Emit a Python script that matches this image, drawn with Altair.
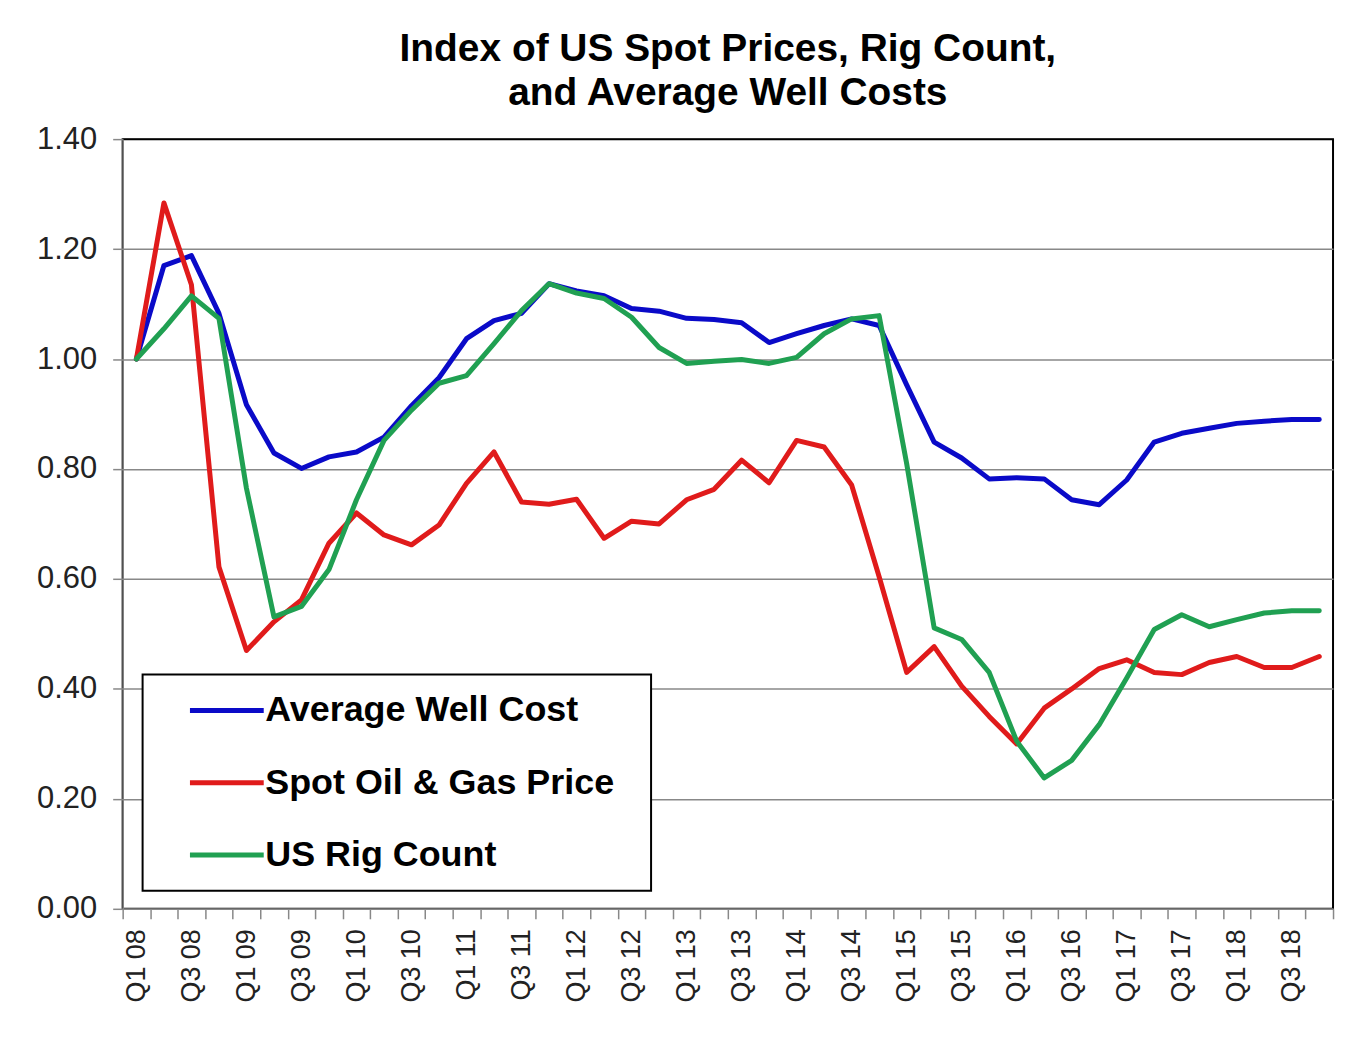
import altair as alt
import pandas as pd

quarters = [
    "Q1 08", "Q2 08", "Q3 08", "Q4 08", "Q1 09", "Q2 09", "Q3 09", "Q4 09",
    "Q1 10", "Q2 10", "Q3 10", "Q4 10", "Q1 11", "Q2 11", "Q3 11", "Q4 11",
    "Q1 12", "Q2 12", "Q3 12", "Q4 12", "Q1 13", "Q2 13", "Q3 13", "Q4 13",
    "Q1 14", "Q2 14", "Q3 14", "Q4 14", "Q1 15", "Q2 15", "Q3 15", "Q4 15",
    "Q1 16", "Q2 16", "Q3 16", "Q4 16", "Q1 17", "Q2 17", "Q3 17", "Q4 17",
    "Q1 18", "Q2 18", "Q3 18", "Q4 18",
]

series_names = ["Average Well Cost", "Spot Oil & Gas Price", "US Rig Count"]
series_colors = ["#0A0AC8", "#E01B1B", "#20A052"]

well_cost = [
    1.00, 1.17, 1.188, 1.083, 0.917, 0.829, 0.801, 0.822, 0.831, 0.858,
    0.915, 0.966, 1.037, 1.07, 1.083, 1.137, 1.124, 1.115, 1.092, 1.087,
    1.074, 1.072, 1.066, 1.03, 1.046, 1.061, 1.073, 1.061, 0.953, 0.849,
    0.82, 0.782, 0.784, 0.782, 0.744, 0.735, 0.78, 0.849, 0.865, 0.874,
    0.883, 0.887, 0.890, 0.890,
]
spot_price = [
    1.00, 1.284, 1.135, 0.622, 0.47, 0.522, 0.562, 0.665, 0.72, 0.68,
    0.662, 0.698, 0.774, 0.831, 0.74, 0.736, 0.745, 0.674, 0.705, 0.70,
    0.744, 0.763, 0.816, 0.775, 0.852, 0.84, 0.771, 0.604, 0.43, 0.477,
    0.405, 0.35, 0.30, 0.365, 0.40, 0.437, 0.453, 0.43, 0.426, 0.448,
    0.459, 0.439, 0.439, 0.459,
]
rig_count = [
    1.00, 1.055, 1.115, 1.074, 0.765, 0.531, 0.55, 0.617, 0.744, 0.852,
    0.907, 0.956, 0.97, 1.028, 1.088, 1.137, 1.12, 1.11, 1.076, 1.021,
    0.992, 0.996, 0.999, 0.992, 1.003, 1.046, 1.073, 1.079, 0.81, 0.511,
    0.49, 0.43, 0.305, 0.238, 0.27, 0.335, 0.42, 0.508, 0.535, 0.513,
    0.526, 0.538, 0.542, 0.542,
]

y_ticks = [0.0, 0.2, 0.4, 0.6, 0.8, 1.0, 1.2, 1.4]

rows = []
for name, vals in zip(series_names, [well_cost, spot_price, rig_count]):
    for q, v in zip(quarters, vals):
        rows.append({"quarter": q, "series": name, "value": v})
df = pd.DataFrame(rows)

FONT = "Liberation Sans"

chart = alt.Chart(df).mark_line(
    strokeWidth=5, strokeJoin="round", strokeCap="round"
).encode(
    x=alt.X(
        "quarter:N",
        sort=quarters,
        title=None,
        scale=alt.Scale(type="band", paddingInner=0, paddingOuter=0),
        axis=alt.Axis(
            tickBand="extent",
            labelExpr="(slice(datum.label,0,2)=='Q2' || slice(datum.label,0,2)=='Q4') ? '' : datum.label",
            labelAngle=270,
            labelFont=FONT,
            labelFontSize=27,
            labelColor="#222222",
            labelPadding=10,
            tickSize=10,
            tickColor="#888888",
            tickWidth=1.5,
            domainColor="#888888",
            domainWidth=1.5,
            grid=False,
        ),
    ),
    y=alt.Y(
        "value:Q",
        title=None,
        scale=alt.Scale(domain=[0, 1.4], nice=False, zero=True),
        axis=alt.Axis(
            values=y_ticks,
            format=".2f",
            labelFont=FONT,
            labelFontSize=31,
            labelColor="#222222",
            labelPadding=16,
            tickSize=10,
            tickColor="#888888",
            tickWidth=1.5,
            domainColor="#888888",
            domainWidth=1.5,
            grid=True,
            gridColor={"condition": {"test": "datum.value >= 1.39", "value": "#000000"}, "value": "#888888"},
            gridWidth=1.5,
        ),
    ),
    color=alt.Color(
        "series:N",
        sort=series_names,
        scale=alt.Scale(domain=series_names, range=series_colors),
        legend=alt.Legend(
            title=".",
            titleOrient="right",
            titleColor="#FFFFFF",
            titleFontSize=10,
            titlePadding=26,
            orient="none",
            legendX=20,
            legendY=537,
            symbolType="M0,0H2",
            symbolSize=5476,
            symbolStrokeWidth=5,
            labelFont=FONT,
            labelFontSize=36,
            labelFontWeight="bold",
            labelColor="#000000",
            labelLimit=900,
            labelOffset=36,
            clipHeight=56,
            fillColor="#FFFFFF",
            strokeColor="#000000",
            padding=8,
            rowPadding=16.5,
        ),
    ),
).properties(
    width=1214,
    height=772,
    title=alt.TitleParams(
        text=["Index of US Spot Prices, Rig Count,", "and Average Well Costs"],
        font=FONT,
        fontSize=39,
        fontWeight="bold",
        color="#000000",
        anchor="middle",
        lineHeight=44,
        offset=10,
    ),
    autosize=alt.AutoSizeParams(type="none"),
    padding={"left": 115, "top": 130, "right": 10, "bottom": 110},
    background="#FFFFFF",
).configure_view(
    stroke="#000000",
    strokeWidth=2,
).configure_legend(
    strokeWidth=2,
)

chart.save("out.html", embed_options={"renderer": "svg", "actions": False})
